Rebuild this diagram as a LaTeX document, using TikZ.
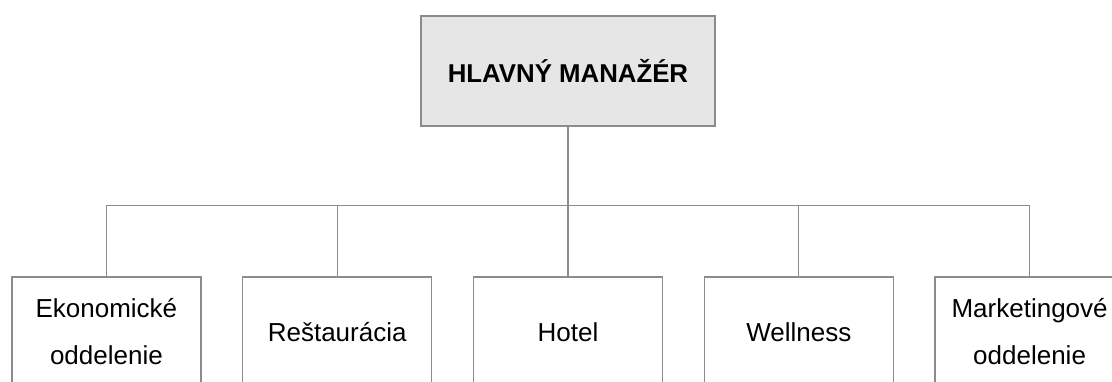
\documentclass[tikz,border=0pt]{standalone}
\usepackage{fontspec}
\setmainfont{Liberation Sans}
\usetikzlibrary{positioning}
\definecolor{OrgLine}{HTML}{8C8C8C}
\definecolor{OrgFill}{HTML}{E6E6E6}

\begin{document}
\begin{tikzpicture}[x=1pt,y=1pt,node distance=40.5pt]
    \tikzstyle{headbox}=[draw=OrgLine,fill=OrgFill,line width=1.3pt,
      minimum width=294pt,minimum height=110pt,inner sep=0pt,align=center,
      font=\fontsize{25.8}{30}\selectfont\bfseries]
    \tikzstyle{deptbox}=[draw=OrgLine,line width=1.3pt,
      minimum width=189pt,minimum height=110pt,inner sep=0pt,align=center,
      font=\fontsize{26}{47}\selectfont]
    \tikzstyle{orgline}=[draw=OrgLine,line width=1.3pt]
    \useasboundingbox (0,0) rectangle (1112,-381);
    \node[deptbox] (d1) at (106.4,-332) {Ekonomické\\oddelenie};
    \node[deptbox,right=of d1] (d2) {Reštaurácia};
    \node[deptbox,right=of d2] (d3) {Hotel};
    \node[deptbox,right=of d3] (d4) {Wellness};
    \node[deptbox,right=of d4] (d5) {Marketingové\\oddelenie};
    \node[headbox] (head) at (d3 |- 0,-71) {HLAVNÝ MANAŽÉR};
    \coordinate (bus) at (0,-205.7);
    \draw[orgline] (head.south) -- (head.south |- bus);
    \draw[orgline] (d1.north) |- (d5.north |- bus) -- (d5.north);
    \foreach \i in {2,3,4}
      \draw[orgline] (d\i.north) -- (d\i.north |- bus);
  \end{tikzpicture}
\end{document}
